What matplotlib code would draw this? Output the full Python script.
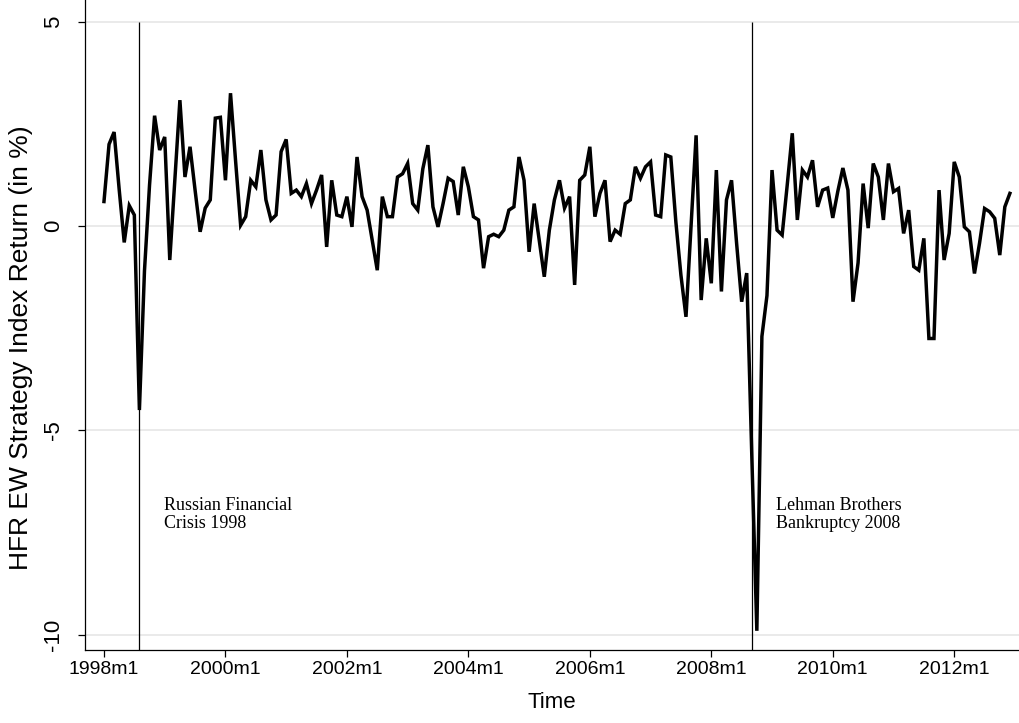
import numpy as np
import matplotlib
matplotlib.use("Agg")
import matplotlib.pyplot as plt
from matplotlib import font_manager

# monthly HFR EW strategy index returns, 1998m1 .. 2012m12 (in %)
returns = [
    0.6, 2.0, 2.3, 0.9, -0.4, 0.5, 0.27, -4.5, -1.1, 1.0, 2.7, 1.86,
    2.18, -0.83, 1.12, 3.08, 1.2, 1.94, 0.88, -0.14, 0.44, 0.64, 2.64, 2.66,
    1.12, 3.25, 1.6, 0.02, 0.23, 1.12, 0.96, 1.86, 0.64, 0.15, 0.27, 1.82,
    2.12, 0.8, 0.88, 0.72, 1.04, 0.55, 0.88, 1.25, -0.51, 1.12, 0.27, 0.23,
    0.72, -0.02, 1.69, 0.72, 0.39, -0.34, -1.08, 0.72, 0.23, 0.23, 1.2, 1.28,
    1.53, 0.55, 0.39, 1.4, 1.98, 0.47, -0.02, 0.55, 1.17, 1.09, 0.27, 1.45,
    0.96, 0.23, 0.15, -1.03, -0.26, -0.2, -0.26, -0.1, 0.39, 0.47, 1.69, 1.12,
    -0.63, 0.55, -0.34, -1.24, -0.1, 0.64, 1.12, 0.44, 0.72, -1.44, 1.12, 1.25,
    1.94, 0.23, 0.8, 1.12, -0.38, -0.1, -0.2, 0.55, 0.64, 1.45, 1.17, 1.45,
    1.57, 0.27, 0.23, 1.74, 1.69, 0.1, -1.2, -2.22, 0.0, 2.22, -1.81, -0.3,
    -1.4, 1.37, -1.6, 0.64, 1.12, -0.42, -1.85, -1.15, -5.6, -9.9, -2.7, -1.7,
    1.37, -0.1, -0.22, 1.0, 2.27, 0.15, 1.37, 1.2, 1.61, 0.47, 0.88, 0.93,
    0.2, 0.85, 1.42, 0.88, -1.85, -0.9, 1.04, -0.05, 1.53, 1.2, 0.15, 1.53,
    0.84, 0.92, -0.18, 0.39, -0.99, -1.08, -0.3, -2.75, -2.75, 0.88, -0.83, -0.18,
    1.57, 1.2, -0.02, -0.14, -1.16, -0.42, 0.43, 0.35, 0.19, -0.71, 0.47, 0.8,
]
start_year = 1998

tick_years = [1998, 2000, 2002, 2004, 2006, 2008, 2010, 2012]
tick_labels = [f"{y}m1" for y in tick_years]
y_ticks = [-10, -5, 0, 5]

# events: (year, month, label)
events = [
    (1998, 8, "Russian Financial\nCrisis 1998"),
    (2008, 9, "Lehman Brothers\nBankruptcy 2008"),
]

names = {f.name for f in font_manager.fontManager.ttflist}
if "Liberation Sans Narrow" in names:
    narrow = ["Liberation Sans Narrow", "DejaVu Sans"]
    tick_size = 16
else:
    narrow = ["Liberation Sans", "DejaVu Sans"]
    tick_size = 14
sans = ["Liberation Sans", "DejaVu Sans"]
serif = ["Liberation Serif", "DejaVu Serif"]


def month_index(year, month):
    return (year - start_year) * 12 + (month - 1)


x = np.arange(len(returns))

fig = plt.figure(figsize=(10.19, 7.23), dpi=100)
ax = fig.add_axes([85 / 1019, 73 / 723, 934 / 1019, 650 / 723])

ymin, ymax = -10.37, 5.53
ax.set_ylim(ymin, ymax)
ax.set_xlim(-3.75, 180.8)

# light grid at the y ticks
for yv in y_ticks:
    ax.axhline(yv, color="#e6e6e6", lw=1.2, zorder=0)

ax.plot(x, returns, color="black", lw=2.5, solid_joinstyle="miter", zorder=3)

for yr, mo, label in events:
    xi = month_index(yr, mo)
    ax.vlines(xi, ymin, 5, color="black", lw=0.9, zorder=2)
    ax.text(xi + 4.8, -6.62, label, family=serif, fontsize=13,
            va="top", ha="left", linespacing=1.1)

ax.set_xticks([month_index(y, 1) for y in tick_years])
ax.set_xticklabels(tick_labels, family=narrow, fontsize=tick_size)
ax.set_yticks(y_ticks)
ax.set_yticklabels([str(v) for v in y_ticks], family=sans, fontsize=16,
                   rotation=90, va="center")

ax.tick_params(axis="x", length=5, width=0.9, pad=3)
ax.tick_params(axis="y", length=5, width=0.9, pad=10)

ax.set_xlabel("Time", family=sans, fontsize=16)
ax.xaxis.set_label_coords(0.5, -0.065)
ax.set_ylabel("HFR EW Strategy Index Return (in %)", family=sans,
              fontsize=19)
ax.yaxis.set_label_coords(-0.056, 0.465)

for side in ["top", "right"]:
    ax.spines[side].set_visible(False)
for side in ["left", "bottom"]:
    ax.spines[side].set_linewidth(0.9)

fig.savefig("out.png", dpi=100)
